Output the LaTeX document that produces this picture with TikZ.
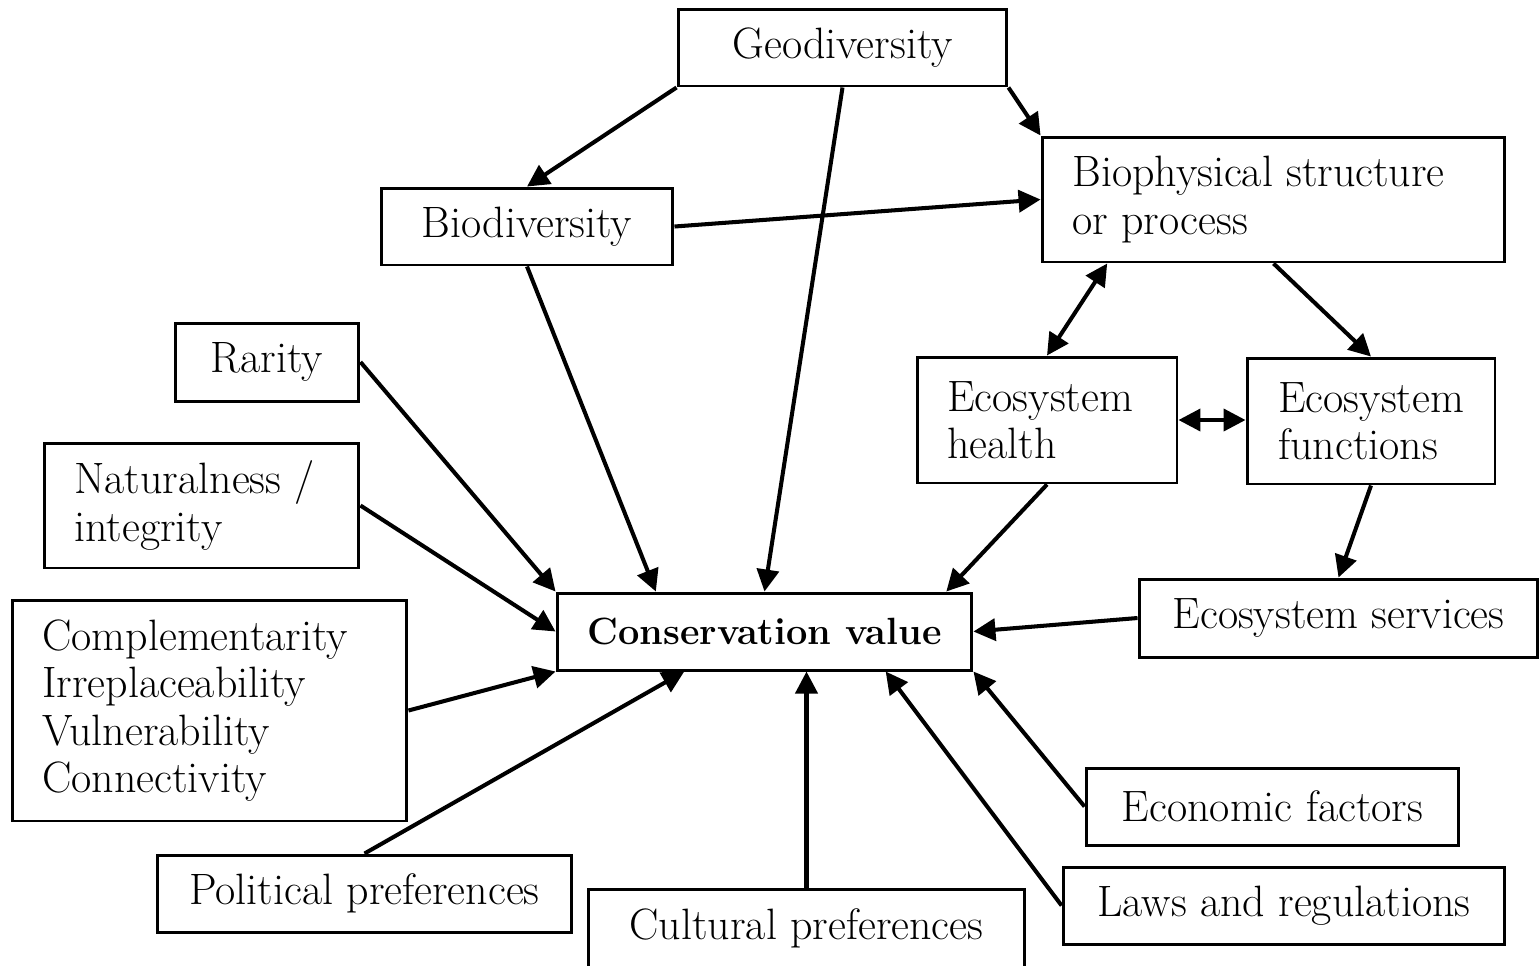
\documentclass[tikz,border=0pt]{standalone}
\usetikzlibrary{arrows.meta,calc}
\begin{document}
\begin{tikzpicture}[x=0.02cm,y=-0.02cm,
  txt/.style={font=\fontsize{25}{27}\selectfont},
  box/.style={draw,line width=1.7pt,inner sep=0pt,txt},
  ltxt/.style={anchor=west,align=left,inner sep=0pt,txt},
  arr/.style={line width=2.3pt,-{Triangle[length=0.44cm,width=0.44cm]}},
  darr/.style={line width=2.3pt,{Triangle[length=0.44cm,width=0.44cm]}-{Triangle[length=0.44cm,width=0.44cm]}}]
\useasboundingbox (0,0) rectangle (1540,965);
\node[box,minimum width=6.58cm,minimum height=1.54cm] (geo) at (842.5,47.5) {Geodiversity};
\node[box,minimum width=9.26cm,minimum height=2.5cm] (bp) at (1273.5,199.5) {};
\node[ltxt] (bpt) at (1072,199.5) {Biophysical structure\\or process};
\node[box,minimum width=5.84cm,minimum height=1.54cm] (bio) at (527,226.5) {Biodiversity};
\node[box,minimum width=3.68cm,minimum height=1.56cm] (rar) at (267,362) {Rarity};
\node[box,minimum width=6.3cm,minimum height=2.5cm] (nat) at (201.5,505.5) {};
\node[ltxt] (natt) at (74,505.5) {Naturalness /\\integrity};
\node[box,minimum width=7.9cm,minimum height=4.42cm] (comp) at (209.5,710.5) {};
\node[ltxt] (compt) at (42,710.5) {Complementarity\\Irreplaceability\\Vulnerability\\Connectivity};
\node[box,minimum width=5.2cm,minimum height=2.52cm] (eh) at (1047,420) {};
\node[ltxt] (eht) at (947,420) {Ecosystem\\health};
\node[box,minimum width=4.96cm,minimum height=2.52cm] (ef) at (1371,421) {};
\node[ltxt] (eft) at (1278,421) {Ecosystem\\functions};
\node[box,minimum width=8.3cm,minimum height=1.54cm,font=\fontsize{21.6}{27}\selectfont\bfseries] (cons) at (764.5,631.5) {Conservation value};
\node[box,minimum width=7.98cm,minimum height=1.56cm] (es) at (1338.5,618) {Ecosystem services};
\node[box,minimum width=7.46cm,minimum height=1.54cm] (econ) at (1272.5,806.5) {Economic factors};
\node[box,minimum width=8.84cm,minimum height=1.54cm] (laws) at (1284,905.5) {Laws and regulations};
\node[box,minimum width=8.3cm,minimum height=1.54cm] (pol) at (364.5,893.5) {Political preferences};
\node[box,minimum width=8.74cm,minimum height=1.72cm] (cul) at (806.5,932) {};
\node[txt] (cult) at (806.5,928) {Cultural preferences};
% connectors
\draw[arr] (geo.south west) -- (bio.north);
\draw[arr] (geo.south) -- (cons.north);
\draw[arr] (geo.south east) -- (bp.north west);
\draw[arr] (bio.east) -- (bp.west);
\draw[arr] (bio.south) -- ($(cons.north west)!0.24!(cons.north east)$);
\draw[darr] ($(bp.south west)!0.143!(bp.south east)$) -- (eh.north);
\draw[arr] (bp.south) -- (ef.north);
\draw[darr] (eh.east) -- (eh.east -| ef.west);
\draw[arr] (eh.south) -- ($(cons.north west)!0.935!(cons.north east)$);
\draw[arr] (ef.south) -- (es.north);
\draw[arr] (es.west) -- (cons.east);
\draw[arr] (rar.east) -- (cons.north west);
\draw[arr] (nat.east) -- (cons.west);
\draw[arr] (comp.east) -- (cons.south west);
\draw[arr] (pol.north) -- ($(cons.south west)!0.308!(cons.south east)$);
\draw[arr] (cul.north) -- (cul.north |- cons.south);
\draw[arr] (laws.west) -- ($(cons.south west)!0.79!(cons.south east)$);
\draw[arr] (econ.west) -- (cons.south east);
\end{tikzpicture}
\end{document}
